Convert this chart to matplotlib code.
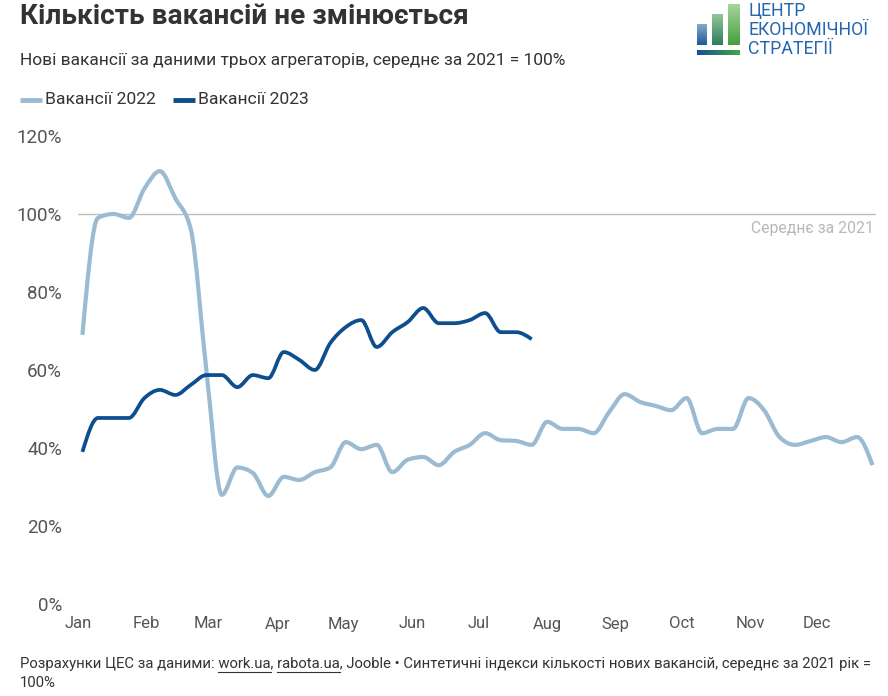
import numpy as np
import pandas as pd
import matplotlib
matplotlib.use('Agg')
import matplotlib.pyplot as plt
import matplotlib.dates as mdates
from matplotlib.path import Path
from matplotlib.patches import PathPatch

plt.rcParams['font.family'] = ['Roboto', 'DejaVu Sans']

# --- data (weekly, % of 2021 average) ---
weeks = pd.date_range('2022-01-03', periods=52, freq='7D')
vac_2022 = [69, 99, 100, 99, 106.5, 111, 104, 96, 60, 28,
            35, 33.6, 27.7, 32.6, 31.8, 33.8, 35, 41.5, 39.7, 40.8,
            33.8, 37, 37.7, 35.6, 39, 40.8, 43.8, 42, 41.8, 40.8,
            46.7, 44.9, 44.9, 43.8, 49.2, 53.8, 51.8, 50.8, 49.7, 52.8,
            43.8, 44.9, 44.9, 52.8, 49.7, 42.8, 40.8, 41.8, 42.8, 41.5,
            42.8, 35.6]
vac_2023 = [39, 47.7, 47.7, 47.7, 52.8, 54.9, 53.6, 56.2, 58.7, 58.7,
            55.6, 58.7, 57.9, 64.6, 62.6, 60, 66.9, 71, 72.8, 65.9,
            69.7, 72.3, 75.9, 72, 72, 72.8, 74.6, 69.7, 69.7, 67.9]
labels = ['Вакансії 2022', 'Вакансії 2023']
colors = ['#9bbbd3', '#0d4f8e']
yticks = [0, 20, 40, 60, 80, 100, 120]

W, H = 888, 696


def monotone_path(x, y):
    # cubic bezier path like d3.curveMonotoneX
    x = np.asarray(x, float)
    y = np.asarray(y, float)
    n = len(x)
    h = np.diff(x)
    s = np.diff(y) / h
    t = np.zeros(n)
    for i in range(1, n - 1):
        p = (s[i - 1] * h[i] + s[i] * h[i - 1]) / (h[i - 1] + h[i])
        t[i] = (np.sign(s[i - 1]) + np.sign(s[i])) * min(abs(s[i - 1]), abs(s[i]), 0.5 * abs(p))
    t[0] = (3 * s[0] - t[1]) / 2
    t[-1] = (3 * s[-1] - t[-2]) / 2
    verts = [(x[0], y[0])]
    codes = [Path.MOVETO]
    for i in range(n - 1):
        dx = h[i] / 3
        verts += [(x[i] + dx, y[i] + dx * t[i]),
                  (x[i + 1] - dx, y[i + 1] - dx * t[i + 1]),
                  (x[i + 1], y[i + 1])]
        codes += [Path.CURVE4] * 3
    return Path(verts, codes)


fig = plt.figure(figsize=(W / 100, H / 100), dpi=100)
ax = fig.add_axes([78 / W, 1 - 604 / H, (876 - 78) / W, (604 - 136) / H])

xd = mdates.date2num(weeks)
for vals, col, lw in [(vac_2022, colors[0], 3.0), (vac_2023, colors[1], 2.7)]:
    path = monotone_path(xd[:len(vals)], vals)
    ax.add_patch(PathPatch(path, fill=False, edgecolor=col, lw=lw,
                           capstyle='butt', joinstyle='round', zorder=3))

ax.axhline(100, color='#bdbdbd', lw=1, zorder=1)
ax.text(0.997, 100 - 3.6, 'Середнє за 2021', transform=ax.get_yaxis_transform(),
        ha='right', va='center', fontsize=11.3, color='#b8b8b8')

ax.set_xlim(mdates.date2num(pd.Timestamp('2022-01-01')),
            mdates.date2num(pd.Timestamp('2022-12-27 14:00')))
ax.set_ylim(0, 120)
ax.set_yticks(yticks)
ax.set_yticklabels([f'{v}%' for v in yticks])
ax.xaxis.set_major_locator(mdates.MonthLocator())
ax.xaxis.set_major_formatter(mdates.DateFormatter('%b'))
ax.tick_params(axis='both', length=0, labelcolor='#555555')
ax.tick_params(axis='y', pad=11.5, labelsize=13.5)
ax.tick_params(axis='x', pad=9, labelsize=12)
for sp in ax.spines.values():
    sp.set_visible(False)
ax.patch.set_alpha(0)

# --- titles ---
fig.text(20 / W, 1 - 17 / H, 'Кількість вакансій не змінюється', fontsize=20.2,
         fontweight='bold', color='#333333', va='center', ha='left')
fig.text(20 / W, 1 - 60 / H,
         'Нові вакансії за даними трьох агрегаторів, середнє за 2021 = 100%',
         fontsize=12.5, color='#333333', va='center', ha='left')

# --- legend ---
lx = [20, 173]
for x0, lab, col in zip(lx, labels, colors):
    fig.add_artist(plt.Line2D([x0 / W, (x0 + 22) / W], [1 - 100 / H] * 2,
                              color=col, lw=3.5, solid_capstyle='butt'))
    fig.text((x0 + 25) / W, 1 - 100 / H, lab, fontsize=12.6, color='#333333',
             va='center', ha='left')

# --- footer with underlined sources ---
renderer = fig.canvas.get_renderer()


def text_w(s, size):
    t = fig.text(0, 0, s, fontsize=size)
    w = t.get_window_extent(renderer).width
    t.remove()
    return w


fs = 10.7
line1 = ('Розрахунки ЦЕС за даними: work.ua, rabota.ua, Jooble • Синтетичні індекси '
         'кількості нових вакансій, середнє за 2021 рік =')
fig.text(20 / W, 1 - 664 / H, line1, fontsize=fs, color='#333333', va='center')
fig.text(20 / W, 1 - 683 / H, '100%', fontsize=fs, color='#333333', va='center')
for pre, word in [('Розрахунки ЦЕС за даними: work.ua', 'work.ua'),
                  ('Розрахунки ЦЕС за даними: work.ua, rabota.ua', 'rabota.ua')]:
    x1 = 20 + text_w(pre, fs)
    x0 = x1 - text_w(word, fs)
    fig.add_artist(plt.Line2D([x0 / W, x1 / W], [1 - 672 / H] * 2,
                              color='#333333', lw=0.8))

# --- logo ---
def grad_rect(x0, y0, x1, y1, c_top, c_bot, horiz=False):
    la = fig.add_axes([x0 / W, 1 - y1 / H, (x1 - x0) / W, (y1 - y0) / H])
    ca = np.array(matplotlib.colors.to_rgb(c_top))
    cb = np.array(matplotlib.colors.to_rgb(c_bot))
    k = np.linspace(0, 1, 40)[:, None]
    img = ca * (1 - k) + cb * k
    img = img[None, :, :] if horiz else img[:, None, :]
    la.imshow(img, aspect='auto', interpolation='bilinear')
    la.axis('off')


grad_rect(697, 24, 707, 45, '#86aacb', '#1d5a9a')
grad_rect(712, 14, 723, 45, '#93c49a', '#2f7f5a')
grad_rect(728, 4, 740, 45, '#a6d49c', '#45a03c')
grad_rect(697, 50, 740, 55, '#1a4d98', '#3fa845', horiz=True)
for i, s in enumerate(['ЦЕНТР', 'ЕКОНОМІЧНОЇ', 'СТРАТЕГІЇ']):
    fig.text(748 / W, 1 - (11 + 19 * i) / H, s, fontsize=12.8, color='#2466b0',
             va='center', ha='left')

fig.savefig('out.png', dpi=100, facecolor='white')
